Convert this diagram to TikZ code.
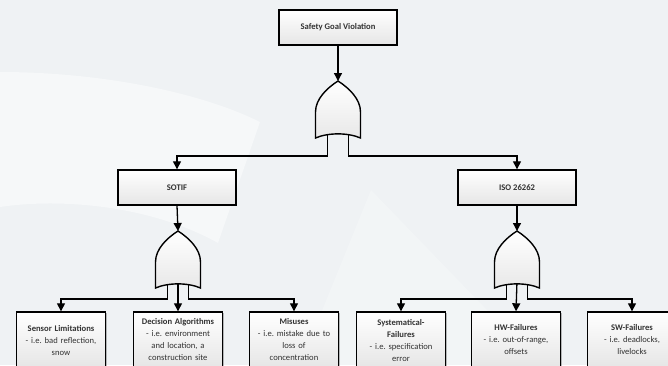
\documentclass[tikz,border=0pt]{standalone}
\usepackage{fontspec}
\setmainfont{Carlito}
\usetikzlibrary{arrows.meta,calc,shadows}
\definecolor{bg}{RGB}{239,242,244}
\definecolor{bglight}{RGB}{246,248,249}
\definecolor{ink}{RGB}{50,50,50}
\tikzset{
  box/.style={draw=black, line width=1.4pt, top color=white, bottom color=black!10,
    text=ink, align=center, inner sep=0pt,
    drop shadow={shadow xshift=1.2pt, shadow yshift=-1.2pt, opacity=0.25, fill=black}},
  headbox/.style={box, minimum width=118pt, minimum height=35pt,
    font=\bfseries\fontsize{8.6}{12}\selectfont},
  leafbox/.style={box, minimum width=89pt, minimum height=56pt, text width=87pt,
    font=\fontsize{8.6}{12}\selectfont},
  link/.style={draw=black, line width=1.3pt, -{Triangle[length=8pt,width=8pt]}},
  gatebody/.style={draw=black, line width=1.4pt, top color=white, bottom color=black!9},
}
% OR gate drawn with its tip at the given coordinate, pointing up
\newcommand\orgateat[1]{%
  \begin{scope}[shift={(#1)}]
    \path[gatebody] (0,0) .. controls (11,7) and (22.5,18) .. (22.5,31)
      -- (22.5,57) .. controls (10,51.5) and (-10,51.5) .. (-22.5,57)
      -- (-22.5,31) .. controls (-22.5,18) and (-11,7) .. cycle;
  \end{scope}}
\frenchspacing
\begin{document}
\begin{tikzpicture}[x=1pt,y=-1pt]
  % page and background
  \clip (0,0) rectangle (668,365);
  \fill[bg] (0,0) rectangle (668,365);
  \fill[bglight] (0,72) .. controls (100,72) and (200,92) .. (260,122)
    -- (218,243) .. controls (150,205) and (60,198) .. (0,207) -- cycle;
  \fill[bglight, opacity=0.5] (371,190) -- (540,365) -- (300,365) -- cycle;

  % event boxes
  \node[headbox] (goal) at (338,27.5) {Safety Goal Violation};
  \node[headbox] (sotif) at (177,187.5) {SOTIF};
  \node[headbox] (iso) at (517,187.5) {ISO 26262};

  \node[leafbox] (sensor) at (61,340) {\textbf{Sensor Limitations}\\- i.e. bad reflection,\\snow};
  \node[leafbox] (decision) at (178,340) {\textbf{Decision Algorithms}\\- i.e. environment\\and location, a\\construction site};
  \node[leafbox] (misuse) at (294,340) {\textbf{Misuses}\\- i.e. mistake due to\\loss of\\concentration};
  \node[leafbox] (syst) at (401,340) {\textbf{Systematical-}\\\textbf{Failures}\\- i.e. specification\\error};
  \node[leafbox] (hw) at (516,340) {\textbf{HW-Failures}\\- i.e. out-of-range,\\offsets};
  \node[leafbox] (sw) at (632,340) {\textbf{SW-Failures}\\- i.e. deadlocks,\\livelocks};

  % gate tips
  \coordinate (g1) at (338,81);
  \coordinate (g2) at (178,231);
  \coordinate (g3) at (517,231);

  % connectors
  \draw[link] (goal.south) -- (g1);
  \draw[link] (sotif.south) -- (g2);
  \draw[link] (iso.south) -- (g3);

  \draw[link] ($(g1)+(-10.5,50)$) -- ($(g1)+(-10.5,75)$) -| (sotif.north);
  \draw[link] ($(g1)+(10.5,50)$) -- ($(g1)+(10.5,75)$) -| (iso.north);

  \draw[link] ($(g2)+(-10.5,50)$) -- ($(g2)+(-10.5,68)$) -| (sensor.north);
  \draw[link] ($(g2)+(0,50)$) -- (decision.north);
  \draw[link] ($(g2)+(10.5,50)$) -- ($(g2)+(10.5,68)$) -| (misuse.north);

  \draw[link] ($(g3)+(-10.5,50)$) -- ($(g3)+(-10.5,68)$) -| (syst.north);
  \draw[link] ($(g3)+(0,50)$) -- (hw.north);
  \draw[link] ($(g3)+(10.5,50)$) -- ($(g3)+(10.5,68)$) -| (sw.north);

  % OR gates
  \orgateat{g1}
  \orgateat{g2}
  \orgateat{g3}
\end{tikzpicture}
\end{document}
